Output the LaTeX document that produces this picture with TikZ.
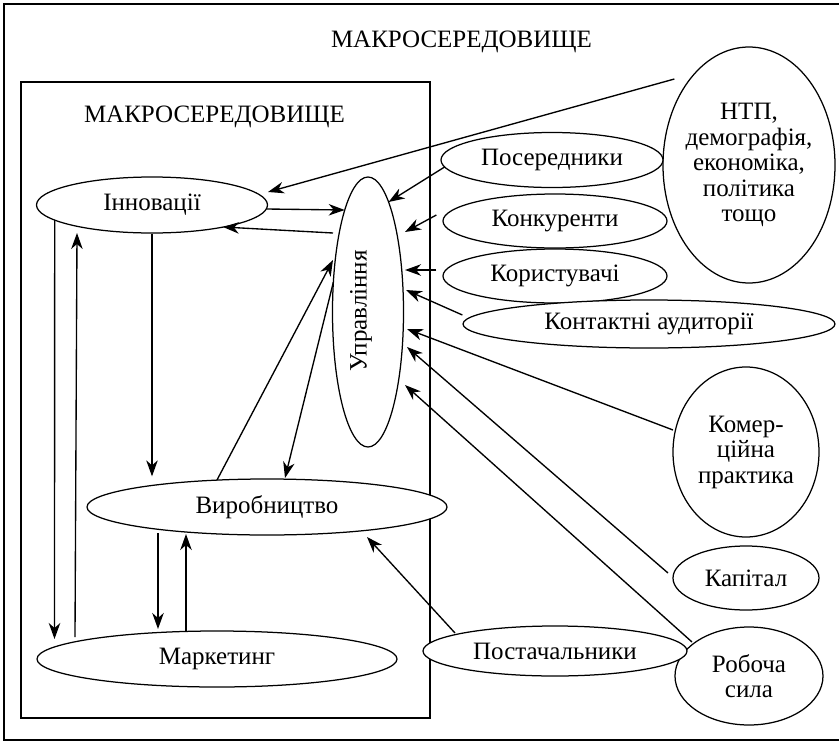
\documentclass[tikz,border=0pt]{standalone}
\usepackage{fontspec}
\setmainfont{Liberation Serif}
\usetikzlibrary{shapes.geometric,arrows.meta}
\begin{document}
\begin{tikzpicture}[x=1pt,y=-1pt,
  every node/.style={font=\fontsize{25}{25.5}\selectfont},
  oval/.style={draw, fill=white, ellipse, line width=1.25pt, inner sep=-15pt, align=center},
  frame/.style={line width=2pt},
  arr/.style={line width=1.35pt, -{Stealth[length=16pt,width=11.5pt,inset=5pt]}}]
\useasboundingbox (0,0) rectangle (839,742);

% frames
\draw[frame] (841,4) -- (4,4) -- (4,740) -- (841,740);
\draw[frame] (21,82) rectangle (430,718);
\node[anchor=base] (outtitle) at (461.5,47) {МАКРОСЕРЕДОВИЩЕ};
\node[anchor=base] (intitle) at (214.5,122) {МАКРОСЕРЕДОВИЩЕ};

% internal elements
\node[oval, minimum width=231pt, minimum height=56pt] (inn) at (152,205) {Інновації};
\node[oval, minimum width=71pt, minimum height=270pt] (upr) at (368,312) {};
\node[rotate=90] (uprt) at (361,311) {Управління};
\node[oval, minimum width=360pt, minimum height=56pt] (vyr) at (267,507) {Виробництво};
\node[oval, minimum width=360pt, minimum height=56pt] (mark) at (217,659) {Маркетинг};

% external elements
\node[oval, minimum width=172pt, minimum height=236pt] (ntp) at (749,165) {НТП,\\демографія,\\економіка,\\політика\\тощо};
\node[oval, minimum width=222pt, minimum height=55pt] (pos) at (552,160) {Посередники};
\node[oval, minimum width=224pt, minimum height=54pt] (konk) at (555,221) {Конкуренти};
\node[oval, minimum width=224pt, minimum height=54pt] (kor) at (555,276) {Користувачі};
\node[oval, minimum width=372pt, minimum height=48pt] (kont) at (649,324) {Контактні аудиторії};
\node[oval, minimum width=146pt, minimum height=170pt] (kom) at (746,452) {Комер-\\ційна\\практика};
\node[oval, minimum width=146pt, minimum height=64pt] (kap) at (746,578) {Капітал};
\node[oval, minimum width=148pt, minimum height=98pt] (rob) at (749,676) {Робоча\\сила};
\node[oval, minimum width=264pt, minimum height=50pt] (post) at (555,651) {Постачальники};

% free line ends
\coordinate (ntpS) at ([xshift=12pt,yshift=86pt]ntp.west);
\coordinate (konkS) at ([xshift=-6pt,yshift=6pt]konk.west);
\coordinate (korS) at ([xshift=-6pt,yshift=6pt]kor.west);
\coordinate (kontS) at ([yshift=9pt]kont.west);

% links inside the firm
\draw[arr] (ntpS) -- ([shift={(116,-13)}]inn.center);
\draw[arr] ([shift={(114.3,4)}]inn.center) -- ([shift={(-23.3,-102)}]upr.center);
\draw[arr] ([shift={(-35,-79)}]upr.center) -- ([shift={(71,22)}]inn.center);
\draw[arr, shorten >=2pt] (inn.south) -- (inn.south |- vyr.north);
\draw[arr] ([shift={(-50,-27)}]vyr.center) -- ([shift={(-35,-52)}]upr.center);
\draw[arr] ([shift={(-34.6,-30)}]upr.center) -- ([shift={(18,-29)}]vyr.center);
\draw[arr] ([shift={(-97.3,15)}]inn.center) -- ([shift={(-162.5,-20)}]mark.center);
\draw[arr] ([shift={(-142,-22)}]mark.center) -- ([shift={(-75,28)}]inn.center);
\draw[arr] ([shift={(-109,26)}]vyr.center) -- ([shift={(-59,-30)}]mark.center);
\draw[arr] ([shift={(-31,-28)}]mark.center) -- ([shift={(-81,27)}]vyr.center);
\draw[arr] ([shift={(-100,-18)}]post.center) -- ([shift={(100,30)}]vyr.center);

% links from the environment
\draw[arr] ([shift={(-107.4,7)}]pos.center) -- ([shift={(20.6,-110)}]upr.center);
\draw[arr] (konkS) -- ([shift={(37,-80)}]upr.center);
\draw[arr] (korS) -- ([shift={(37,-42)}]upr.center);
\draw[arr] (kontS) -- ([shift={(38,-22)}]upr.center);
\draw[arr] ([shift={(-73,-22)}]kom.center) -- ([shift={(39,17)}]upr.center);
\draw[arr] ([shift={(-78,-5)}]kap.center) -- ([shift={(39,35)}]upr.center);
\draw[arr] ([shift={(-57,-34)}]rob.center) -- ([shift={(37,73)}]upr.center);
\end{tikzpicture}
\end{document}
